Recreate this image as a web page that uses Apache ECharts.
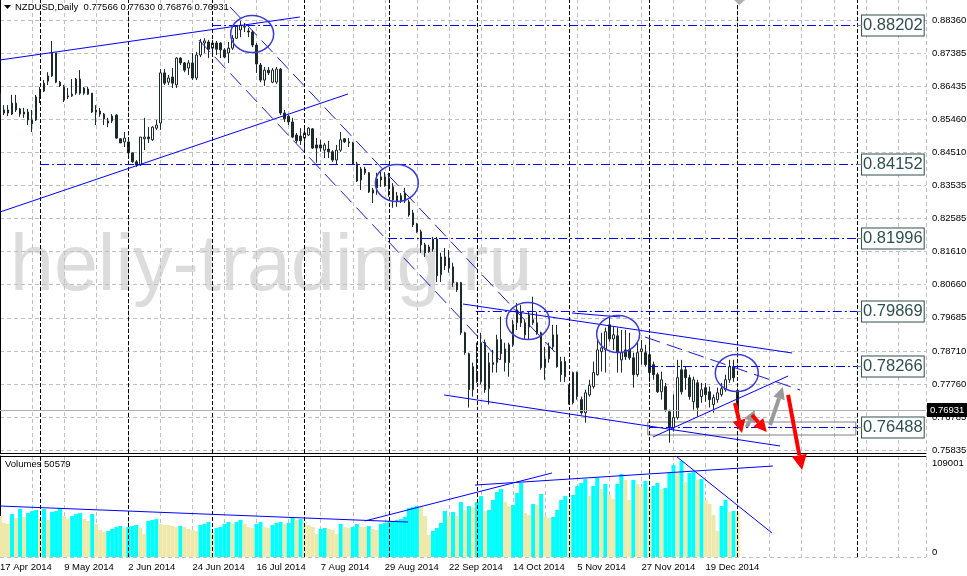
<!DOCTYPE html>
<html>
<head>
<meta charset="utf-8">
<script src="https://cdn.jsdelivr.net/npm/echarts@6/dist/echarts.min.js"></script>
<style>
html,body{margin:0;padding:0;background:#ffffff;}
#chart{width:967px;height:576px;}
</style>
</head>
<body>
<div id="chart"></div>
<script>
const symbolName = 'NZDUSD,Daily';
const tickLabels = ['17 Apr 2014','9 May 2014','2 Jun 2014','24 Jun 2014','16 Jul 2014','7 Aug 2014','29 Aug 2014','22 Sep 2014','14 Oct 2014','5 Nov 2014','27 Nov 2014','19 Dec 2014'];
const priceTicks = [0.88360,0.87385,0.86435,0.85460,0.84510,0.83535,0.82585,0.81610,0.80660,0.79685,0.78710,0.77760,0.76785,0.75835];
const volumeTicks = [0, 109001];
const levels = [0.88202,0.84152,0.81996,0.79869,0.78266,0.76488];

const openP = [
.8623,.8565,.8574,.8562,.8574,.8577,.8562,.8568,.8533,.8545,
.8612,.8629,.8658,.8673,.8740,.8655,.8641,.8615,.8615,.8623,
.8664,.8638,.8635,.8623,.8574,.8571,.8562,.8536,.8542,.8559,
.8490,.8481,.8481,.8449,.8423,.8414,.8490,.8495,.8487,.8521,
.8536,.8682,.8655,.8670,.8647,.8725,.8711,.8696,.8711,.8667,
.8734,.8769,.8772,.8754,.8769,.8769,.8749,.8740,.8754,.8783,
.8807,.8815,.8804,.8801,.8763,.8705,.8661,.8690,.8655,.8655,
.8693,.8565,.8556,.8539,.8501,.8498,.8492,.8501,.8519,.8472,
.8472,.8457,.8460,.8452,.8428,.8457,.8490,.8481,.8478,.8417,
.8370,.8402,.8391,.8341,.8347,.8370,.8379,.8376,.8350,.8309,
.8324,.8309,.8306,.8274,.8242,.8219,.8181,.8175,.8169,.8198,
.8094,.8146,.8143,.8117,.8071,.8071,.7925,.7864,.7759,.7782,
.7782,.7896,.7762,.7832,.7838,.7905,.7878,.7838,.7890,.7954,
.7986,.7954,.7942,.7963,.7954,.7925,.7823,.7849,.7884,.7919,
.7803,.7841,.7768,.7721,.7809,.7730,.7692,.7744,.7768,.7803,
.7870,.7875,.7948,.7907,.7916,.7846,.7875,.7875,.7852,.7803,
.7870,.7867,.7861,.7832,.7803,.7753,.7768,.7695,.7649,.7678,
.7817,.7817,.7794,.7724,.7779,.7739,.7765,.7753,.7716,.7730,
.7745,.7759,.7788,.7826,.77566];
const closeP = [
.8559,.8574,.8565,.8594,.8594,.8562,.8568,.8545,.8545,.8612,
.8629,.8652,.8673,.8740,.8655,.8644,.8603,.8612,.8620,.8664,
.8623,.8623,.8620,.8568,.8568,.8562,.8548,.8542,.8556,.8492,
.8478,.8492,.8449,.8423,.8414,.8495,.8495,.8490,.8524,.8530,
.8682,.8652,.8667,.8652,.8725,.8711,.8690,.8711,.8667,.8734,
.8772,.8775,.8751,.8769,.8751,.8749,.8728,.8754,.8783,.8818,
.8821,.8818,.8801,.8763,.8708,.8661,.8690,.8682,.8690,.8693,
.8565,.8548,.8539,.8495,.8484,.8484,.8507,.8521,.8463,.8463,
.8463,.8472,.8452,.8428,.8457,.8487,.8481,.8478,.8417,.8367,
.8402,.8391,.8335,.8332,.8373,.8379,.8353,.8344,.8312,.8324,
.8309,.8332,.8268,.8239,.8219,.8181,.8158,.8161,.8198,.8091,
.8146,.8120,.8114,.8071,.8050,.7925,.7867,.7759,.7826,.7809,
.7896,.7759,.7838,.7838,.7905,.7864,.7838,.7890,.7949,.7992,
.7954,.7919,.7977,.7954,.7925,.7823,.7849,.7884,.7919,.7826,
.7841,.7797,.7721,.7809,.7739,.7692,.7750,.7771,.7809,.7875,
.7881,.7928,.7907,.7919,.7867,.7867,.7855,.7852,.7803,.7867,
.7878,.7832,.7809,.7803,.7753,.7788,.7701,.7649,.7678,.7794,
.7753,.7794,.7739,.7788,.7707,.7759,.7745,.7730,.7736,.7750,
.7762,.7788,.7826,.7794,.76931];
const lowP = [
.8551,.8559,.8556,.8559,.8568,.8554,.8551,.8530,.8510,.8542,
.8594,.8626,.8647,.8670,.8652,.8641,.8597,.8606,.8612,.8618,
.8618,.8618,.8618,.8565,.8530,.8554,.8530,.8524,.8536,.8490,
.8478,.8466,.8437,.8420,.8408,.8411,.8457,.8478,.8484,.8516,
.8516,.8647,.8647,.8638,.8638,.8705,.8684,.8676,.8661,.8661,
.8728,.8740,.8725,.8740,.8734,.8725,.8725,.8711,.8749,.8781,
.8786,.8801,.8786,.8757,.8682,.8655,.8644,.8676,.8652,.8650,
.8559,.8539,.8530,.8492,.8478,.8472,.8452,.8498,.8460,.8420,
.8452,.8434,.8434,.8423,.8414,.8452,.8478,.8466,.8414,.8364,
.8341,.8385,.8332,.8303,.8327,.8350,.8350,.8321,.8289,.8292,
.8303,.8303,.8263,.8233,.8216,.8158,.8146,.8158,.8161,.8073,
.8073,.8108,.8100,.8059,.8044,.7919,.7861,.7707,.7739,.7779,
.7774,.7750,.7716,.7809,.7809,.7846,.7812,.7797,.7884,.7933,
.7942,.7904,.7904,.7948,.7919,.7817,.7788,.7838,.7875,.7823,
.7782,.7782,.7716,.7716,.7730,.7686,.7663,.7739,.7762,.7800,
.7812,.7809,.7899,.7875,.7809,.7809,.7846,.7846,.7765,.7797,
.7832,.7826,.7782,.7788,.7750,.7730,.7695,.7605,.7637,.7672,
.7745,.7759,.7730,.7701,.7681,.7721,.7724,.7707,.7692,.7721,
.7739,.7753,.7779,.7782,.76876];
const highP = [
.8641,.8588,.8588,.8618,.8618,.8580,.8580,.8577,.8574,.8618,
.8641,.8661,.8684,.8775,.8740,.8658,.8647,.8638,.8664,.8667,
.8690,.8641,.8641,.8623,.8588,.8580,.8565,.8551,.8562,.8562,
.8492,.8510,.8487,.8449,.8428,.8495,.8551,.8524,.8527,.8545,
.8693,.8693,.8676,.8696,.8728,.8728,.8714,.8719,.8740,.8743,
.8781,.8783,.8778,.8778,.8775,.8772,.8754,.8772,.8792,.8821,
.8834,.8827,.8813,.8807,.8769,.8711,.8699,.8699,.8696,.8699,
.8696,.8574,.8559,.8551,.8507,.8521,.8530,.8524,.8521,.8492,
.8487,.8478,.8484,.8457,.8472,.8510,.8492,.8492,.8481,.8423,
.8408,.8408,.8393,.8347,.8391,.8399,.8393,.8391,.8361,.8335,
.8332,.8347,.8312,.8283,.8245,.8225,.8187,.8181,.8204,.8204,
.8158,.8172,.8166,.8129,.8073,.8073,.7928,.7867,.7838,.7896,
.7925,.7905,.7867,.7875,.7919,.7972,.7896,.7896,.7963,.8012,
.8006,.7963,.7986,.8030,.7986,.7928,.7884,.7896,.7948,.7948,
.7855,.7855,.7774,.7812,.7812,.7739,.7759,.7788,.7841,.7904,
.7925,.7940,.7974,.7942,.7940,.7933,.7933,.7925,.7867,.7896,
.7904,.7890,.7910,.7841,.7809,.7812,.7779,.7701,.7745,.7846,
.7846,.7826,.7803,.7797,.7788,.7779,.7779,.7768,.7745,.7765,
.7779,.7803,.7846,.7846,.77630];
const volumes = [
46500,38600,37500,48800,44300,54500,45400,49900,52200,53300,
43100,54500,42000,51100,52200,55600,46500,43100,46500,48800,
49900,43100,40900,48800,37500,30600,28400,29500,31800,34000,
35200,32900,34000,35200,36300,32900,26100,40900,42000,43100,
37500,36300,36300,35200,34000,35200,34000,31800,30600,29500,
36300,37500,39700,28400,32900,34000,37500,39700,37500,39700,
42000,37500,34000,32900,37500,39700,34000,32900,36300,38600,
39700,37500,38600,44300,42000,43100,39700,36300,34000,26100,
31800,32900,31800,30600,26100,37500,34000,32900,34000,37500,
34000,34000,35200,31800,30600,37500,38600,39700,40900,42000,
43100,45400,55600,56700,57900,57900,46500,25000,29500,32900,
38600,52200,46500,51100,46500,62400,53300,57900,56700,62400,
69200,52200,53300,64700,73800,77200,62400,57900,59000,72600,
84000,49900,47700,60200,59000,71500,46500,44300,45400,53300,
64700,69200,60200,70400,80600,84000,88500,69200,80600,89700,
77200,82900,70400,65800,82900,94200,87400,64700,87400,82900,
79500,86300,77200,80600,84000,77200,78300,95300,104400,95300,
109001,85100,95300,96500,87400,88500,64700,60200,47700,29500,
57900,64700,51100,52200,50579];

const FONT = '"Liberation Sans", Arial, sans-serif';
const N = openP.length;
const last = N - 1;
const candleData = openP.map((o, i) => [i, o, closeP[i], lowP[i], highP[i]]);
const volData = volumes.map((v, i) => [i, v]);
const UPV = '#00ffff', DNV = '#eee8aa';
const BLUE = '#0000ff';
const sepStyle = {color: '#000000', width: 1, type: [4, 2]};
const solidBlue = {color: BLUE, width: 1, type: 'solid'};
const dashBlue = {color: '#1a1ad0', width: 1, type: [16, 7]};
const dashDot = {color: BLUE, width: 1, type: [9, 3, 2, 3]};
const separators = [10, 32, 53, 76, 97, 119, 142, 162, 184, 213.8];
const levelEnd = 213.8;

function seg(a, b, style, extra) {
  return [Object.assign({coord: a, lineStyle: style, symbol: 'none'}, extra || {}), {coord: b, symbol: 'none'}];
}

const priceLines = [];
separators.forEach(s => priceLines.push({xAxis: s, lineStyle: sepStyle, symbol: 'none'}));
const levelStarts = [52.9, 10, 96.8, 118.7, 161.9, 161.9];
levels.forEach((lv, k) => {
  priceLines.push(seg([levelStarts[k], lv], [levelEnd, lv], dashDot, {
    label: {show: true, position: 'end', distance: 5, formatter: lv.toFixed(5),
      color: '#2f4f4f', fontSize: 16.5, fontFamily: FONT, backgroundColor: '#ffffff',
      borderColor: '#2f4f4f', borderWidth: 1, padding: [2, 1, 1, 1]}
  }));
});
priceLines.push({yAxis: closeP[last], symbol: 'none', lineStyle: {color: '#b0b0b0', width: 1, type: 'solid'},
  label: {show: true, position: 'end', distance: 1, formatter: closeP[last].toFixed(5), color: '#ffffff',
    backgroundColor: '#000000', fontSize: 9.5, fontFamily: FONT, padding: [2, 3, 2, 3]}});
priceLines.push(seg([0, 0.87195], [74.8, 0.88448], solidBlue));
priceLines.push(seg([0, 0.82767], [86.8, 0.86205], solidBlue));
priceLines.push(seg([57.4, 0.88739], [138.4, 0.78689], dashBlue));
priceLines.push(seg([49.6, 0.87778], [124.7, 0.78456], dashBlue));
priceLines.push(seg([115.5, 0.80087], [197.6, 0.78660], solidBlue));
priceLines.push(seg([110.8, 0.77437], [194.6, 0.75951], solidBlue));
priceLines.push(seg([160.9, 0.79126], [199.6, 0.77582], dashBlue));
priceLines.push(seg([162.9, 0.76213], [196.6, 0.77990], solidBlue));
priceLines.push(seg([142.7, 0.79825], [154.7, 0.79709], solidBlue));

const volLines = [];
separators.forEach(s => volLines.push({xAxis: s, lineStyle: sepStyle, symbol: 'none'}));
volLines.push({yAxis: 0, symbol: 'none', lineStyle: {color: '#c0c0c0', width: 1, type: [4, 3]}});
volLines.push({yAxis: 114700, symbol: 'none', lineStyle: {color: '#000000', width: 1, type: 'solid'}});
volLines.push(seg([0, 57900], [101.8, 39700], solidBlue));
volLines.push(seg([91, 40900], [137.7, 95400], solidBlue));
volLines.push(seg([118.5, 81700], [192.8, 103300], solidBlue));
volLines.push(seg([168.6, 114700], [192.6, 27200], solidBlue));

const gridSplit = {show: true, lineStyle: {color: '#c0c0c0', width: 1, type: [4, 3]}};

const option = {
  animation: false,
  backgroundColor: '#ffffff',
  grid: [
    {left: 0, right: 41, top: -1, height: 454, containLabel: false, outerBoundsMode: 'none'},
    {left: 0, right: 41, top: 456, height: 101, containLabel: false, outerBoundsMode: 'none'}
  ],
  xAxis: [
    {type: 'value', gridIndex: 0, min: 0, max: 231, interval: 8,
      axisLine: {show: true, onZero: false, lineStyle: {color: '#000000', width: 1}},
      axisTick: {show: false}, axisLabel: {show: false}, splitLine: gridSplit},
    {type: 'value', gridIndex: 1, min: 0, max: 231, interval: 8,
      axisLine: {show: false, onZero: false}, axisTick: {show: false},
      axisLabel: {show: true, formatter: v => (v % 16 === 0 && tickLabels[v / 16]) ? tickLabels[v / 16] : '',
        align: 'left', margin: 5, color: '#000000', fontSize: 9.5, fontFamily: FONT,
        showMinLabel: true, showMaxLabel: false},
      splitLine: gridSplit}
  ],
  yAxis: [
    {type: 'value', gridIndex: 0, position: 'right', min: 0.75747, max: 0.88972, scale: true,
      axisLine: {show: true, lineStyle: {color: '#000000', width: 1}},
      axisTick: {show: false, customValues: priceTicks},
      axisLabel: {customValues: priceTicks, formatter: v => v.toFixed(5), color: '#000000',
        fontSize: 9.5, fontFamily: FONT, margin: 6, showMinLabel: true, showMaxLabel: true},
      splitLine: gridSplit},
    {type: 'value', gridIndex: 1, position: 'right', min: 0, max: 114700,
      axisLine: {show: true, lineStyle: {color: '#000000', width: 1}},
      axisTick: {show: false, customValues: volumeTicks},
      axisLabel: {customValues: volumeTicks, color: '#000000', fontSize: 9.5, fontFamily: FONT, margin: 6,
        formatter: v => v === 0 ? '{lo|0}' : '{hi|' + v + '}',
        rich: {lo: {padding: [0, 0, 10, 0], fontSize: 9.5, fontFamily: FONT, color: '#000'},
               hi: {padding: [4, 0, 0, 0], fontSize: 9.5, fontFamily: FONT, color: '#000'}}},
      splitLine: {show: false}}
  ],
  series: [
    {type: 'candlestick', xAxisIndex: 0, yAxisIndex: 0, data: candleData, barWidth: 2,
      itemStyle: {color: '#ffffff', color0: '#1c2a2a', borderColor: '#1c2a2a', borderColor0: '#1c2a2a', borderWidth: 1},
      markLine: {silent: true, animation: false, symbol: ['none', 'none'], label: {show: false}, data: priceLines},
      markArea: {silent: true, animation: false, itemStyle: {color: 'rgba(0,0,0,0)', borderColor: '#808080', borderWidth: 1},
        data: [[{coord: [161.6, 0.76650]}, {coord: [213.5, 0.76271]}]]}},
    {type: 'bar', xAxisIndex: 1, yAxisIndex: 1, data: volData, barWidth: 4,
      itemStyle: {color: p => (p.dataIndex > 0 && volumes[p.dataIndex] > volumes[p.dataIndex - 1]) ? UPV : DNV},
      markLine: {silent: true, animation: false, symbol: ['none', 'none'], label: {show: false}, data: volLines}}
  ]
};

const chart = echarts.init(document.getElementById('chart'));
chart.setOption(option);

const toPx = (x, y) => chart.convertToPixel({xAxisIndex: 0, yAxisIndex: 0}, [x, y]);
const graphics = [];
graphics.push({type: 'text', x: 10, y: 268, z: -10, silent: true,
  style: {text: 'heliy-trading.ru', font: '79px "Liberation Sans", Arial, sans-serif', fill: '#dcdcdc', verticalAlign: 'middle'}});

const ellipseCenters = [[62.9, 0.87953], [99, 0.83612], [131.7, 0.79592], [154.2, 0.79214], [183.8, 0.78078]];
ellipseCenters.forEach(c => {
  const p = toPx(c[0], c[1]);
  graphics.push({type: 'ellipse', z: 100, silent: true, shape: {cx: p[0], cy: p[1], rx: 21.5, ry: 18.5},
    style: {fill: 'none', stroke: '#3a3ad6', lineWidth: 1.5}});
});

function addArrow(a, tip, color, width, head) {
  const p1 = toPx(a[0], a[1]), p2 = toPx(tip[0], tip[1]);
  const dx = p2[0] - p1[0], dy = p2[1] - p1[1], L = Math.hypot(dx, dy);
  const ux = dx / L, uy = dy / L;
  const bx = p2[0] - ux * head, by = p2[1] - uy * head, hw = head * 0.5;
  graphics.push({type: 'line', z: 110, silent: true, shape: {x1: p1[0], y1: p1[1], x2: bx, y2: by},
    style: {stroke: color, lineWidth: width}});
  graphics.push({type: 'polygon', z: 110, silent: true,
    shape: {points: [[p2[0], p2[1]], [bx - uy * hw, by + ux * hw], [bx + uy * hw, by - ux * hw]]},
    style: {fill: color}});
}
addArrow([186.3, 0.76504], [188.3, 0.77000], '#9a9a9a', 4, 12);
addArrow([192.1, 0.76563], [195.3, 0.77670], '#9a9a9a', 4, 12);
addArrow([183.35, 0.77204], [185.1, 0.76330], '#ff0000', 4, 13);
addArrow([187.6, 0.76854], [191.3, 0.76359], '#ff0000', 4, 13);
addArrow([196.6, 0.77437], [200.1, 0.75252], '#ff0000', 4, 15);

levels.forEach(lv => {
  const p = toPx(levelEnd, lv);
  graphics.push({type: 'line', z: 90, silent: true, shape: {x1: p[0], y1: p[1], x2: p[0] + 5, y2: p[1]},
    style: {stroke: '#7a8a8a', lineWidth: 1}});
});

graphics.push({type: 'polygon', z: 100, silent: true, shape: {points: [[734, 0], [745, 0], [739.5, 5]]}, style: {fill: '#b0b0b0'}});
graphics.push({type: 'polygon', z: 100, silent: true, shape: {points: [[4, 5], [11, 5], [7.5, 9]]}, style: {fill: '#000000'}});
graphics.push({type: 'text', x: 15, y: 7, z: 100, silent: true,
  style: {text: symbolName + '  ' + openP[last].toFixed(5) + ' ' + highP[last].toFixed(5) + ' ' + lowP[last].toFixed(5) + ' ' + closeP[last].toFixed(5),
    font: '9.5px "Liberation Sans", Arial, sans-serif', fill: '#000000', verticalAlign: 'middle'}});
graphics.push({type: 'text', x: 5, y: 464.5, z: 100, silent: true,
  style: {text: 'Volumes ' + volumes[last], font: '9.5px "Liberation Sans", Arial, sans-serif', fill: '#000000', verticalAlign: 'middle'}});
chart.setOption({graphic: graphics});
</script>
</body>
</html>
